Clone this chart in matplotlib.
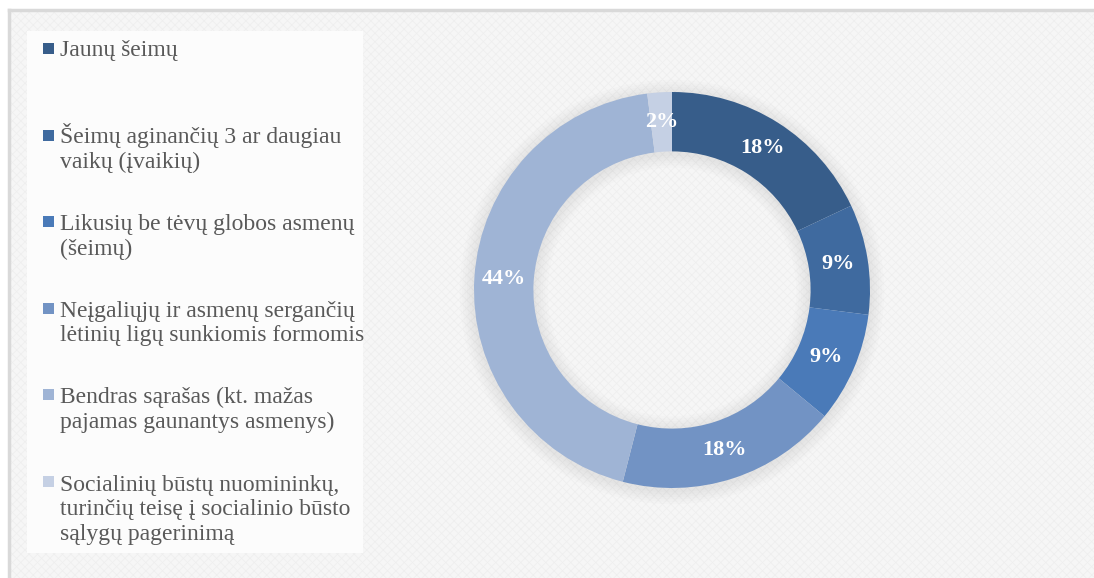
import matplotlib.pyplot as plt
from matplotlib.patches import Rectangle, Wedge
from matplotlib.lines import Line2D

categorijos = ['Jaunų šeimų',
               'Šeimų aginančių 3 ar daugiau\nvaikų (įvaikių)',
               'Likusių be tėvų globos asmenų\n(šeimų)',
               'Neįgaliųjų ir asmenų sergančių\nlėtinių ligų sunkiomis formomis',
               'Bendras sąrašas (kt. mažas\npajamas gaunantys asmenys)',
               'Socialinių būstų nuomininkų,\nturinčių teisę į socialinio būsto\nsąlygų pagerinimą']
procentai = [18, 9, 9, 18, 44, 2]
spalvos = ['#375d8a', '#3f6a9f', '#4a7ab8', '#7293c4', '#9fb4d5', '#c5d0e4']

W, H = 1094, 578
fig = plt.figure(figsize=(W/100, H/100), dpi=100)
fig.patch.set_facecolor('white')

# fonas su tekstura
plt.rcParams['hatch.linewidth'] = 0.5
bg = Rectangle((9/W, 0), 1, 1 - 10/H, transform=fig.transFigure,
               facecolor='#f6f6f6', edgecolor='#eeeeee', hatch='xxxx', lw=0, zorder=0)
fig.patches.append(bg)
fig.add_artist(Line2D([9/W, 9/W], [0, 1 - 10/H], color='#d9d9d9', lw=2.5, transform=fig.transFigure))
fig.add_artist(Line2D([9/W, 1], [1 - 10/H, 1 - 10/H], color='#d9d9d9', lw=2.5, transform=fig.transFigure))

# legendos dezute
fig.patches.append(Rectangle((27/W, 1 - 553/H), (363-27)/W, (553-31)/H, transform=fig.transFigure,
                             facecolor='#fcfcfc', edgecolor='none', zorder=1))

cx, cy, r = 672, 290, 198
ax = fig.add_axes([(cx - r)/W, (H - cy - r)/H, 2*r/W, 2*r/H])
ax.set_zorder(5)
ax.set_facecolor('none')

# silpnas seselis aplink ziedą
for k in range(1, 7):
    ax.add_patch(Wedge((0, -0.01), 1 + 0.012*k, 0, 360, width=0.30 + 0.024*k,
                       facecolor='black', alpha=0.012, lw=0, zorder=0, clip_on=False))

wedges, txt, pct = ax.pie(procentai, colors=spalvos, startangle=90, counterclock=False,
                          radius=1, wedgeprops=dict(width=0.30, edgecolor='none', zorder=2),
                          autopct=lambda p: f'{p:.0f}%', pctdistance=0.85)
for t in pct:
    t.set_color('white')
    t.set_fontsize(16)
    t.set_fontweight('bold')
    t.set_family('Liberation Serif')
    t.set_zorder(3)
ax.set_xlim(-1, 1)
ax.set_ylim(-1, 1)

for i, (lab, col) in enumerate(zip(categorijos, spalvos)):
    base = 56 + i*86.6
    n = lab.count('\n')
    fig.patches.append(Rectangle((43/W, 1 - (base - 2)/H), 11/W, 11/H, transform=fig.transFigure,
                                 facecolor=col, edgecolor='none', zorder=2))
    fig.text(60/W, 1 - (base + n*25.3)/H, lab, fontsize=17, family='Liberation Serif',
             color='#595959', va='baseline', ha='left', linespacing=1.2, zorder=3)

plt.savefig('out.png', dpi=100)
